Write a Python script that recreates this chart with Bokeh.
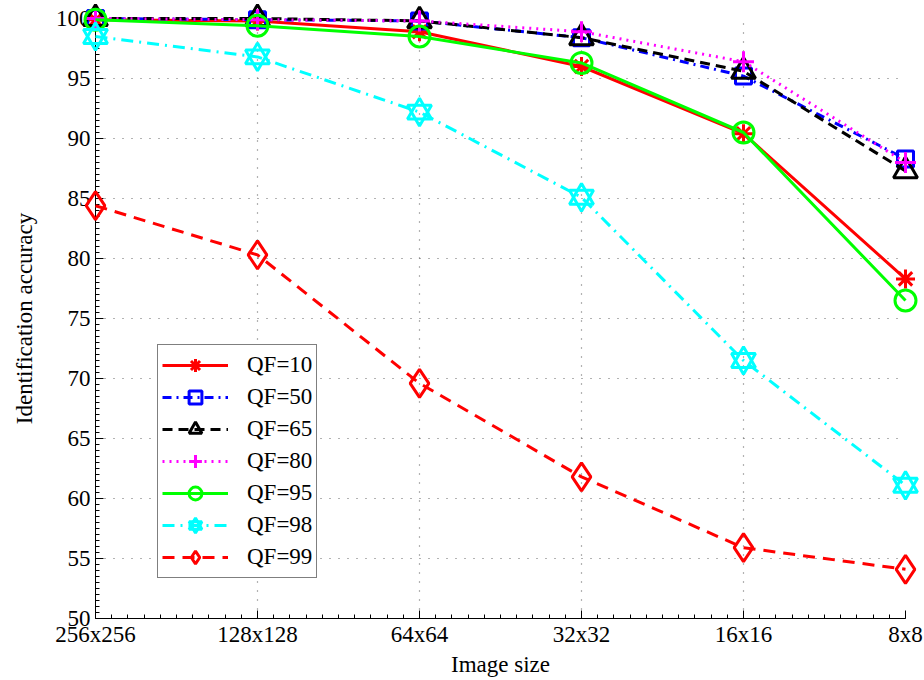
from bokeh.plotting import figure
from bokeh.models import FixedTicker, Legend, LegendItem, Range1d
from bokeh.embed import file_html
from bokeh.resources import INLINE

# ---- data ----
sizes = ["256x256", "128x128", "64x64", "32x32", "16x16", "8x8"]
xpos = [0, 1, 2, 3, 4, 5]
qf10 = [99.9, 99.8, 98.9, 96.0, 90.4, 78.3]
qf50 = [100.0, 99.9, 99.8, 98.4, 95.2, 88.3]
qf65 = [100.0, 100.0, 99.8, 98.4, 95.6, 87.3]
qf80 = [100.0, 99.9, 99.8, 98.9, 96.4, 88.0]
qf95 = [99.9, 99.4, 98.5, 96.3, 90.5, 76.5]
qf98 = [98.5, 96.8, 92.2, 85.1, 71.5, 61.1]
qf99 = [84.4, 80.3, 69.6, 61.8, 55.9, 54.1]
yticks = list(range(50, 101, 5))

FONT = "Liberation Serif"

p = figure(width=924, height=680, x_range=Range1d(0, 5), y_range=Range1d(50, 100),
           output_backend="svg", toolbar_location=None,
           min_border_left=95, min_border_right=19, min_border_top=18, min_border_bottom=62)
p.outline_line_color = None
p.background_fill_color = "white"
p.border_fill_color = "white"

p.xaxis.ticker = FixedTicker(ticks=xpos, minor_ticks=[i / 10 for i in range(51)])
p.xaxis.major_label_overrides = {i: s for i, s in zip(xpos, sizes)}
p.yaxis.ticker = FixedTicker(ticks=yticks, minor_ticks=[50 + i * 0.5 for i in range(101)])

for ax in (p.xaxis[0], p.yaxis[0]):
    ax.major_tick_in = 8
    ax.major_tick_out = 0
    ax.minor_tick_in = 4
    ax.minor_tick_out = 0
    ax.axis_line_color = "black"
    ax.major_tick_line_color = "black"
    ax.minor_tick_line_color = "black"
    ax.major_label_text_font = FONT
    ax.major_label_text_font_size = "23px"
    ax.major_label_text_color = "black"
    ax.axis_label_text_font = FONT
    ax.axis_label_text_font_size = "23px"
    ax.axis_label_text_font_style = "normal"
    ax.axis_label_text_color = "black"

p.xaxis.axis_label = "Image size"
p.yaxis.axis_label = "Identification accuracy"
p.xaxis.major_label_standoff = 3
p.xaxis.axis_label_standoff = 2
p.yaxis.major_label_standoff = 5
p.yaxis.axis_label_standoff = 16

for g in (p.xgrid[0], p.ygrid[0]):
    g.grid_line_color = "#666666"
    g.grid_line_dash = "1 8"
    g.grid_line_width = 1.2

LW = 3
items = []

def series(label, ys, color, dash, markers, size, mlw=3):
    l = p.line(xpos, ys, line_color=color, line_width=LW, line_dash=dash, level="overlay")
    rs = [l]
    for m in markers:
        s = p.scatter(xpos, ys, marker=m, size=size, line_color=color, fill_color=None,
                      line_width=mlw, level="overlay")
        rs.append(s)
    items.append(LegendItem(label=label, renderers=rs))

series("QF=10", qf10, "#ff0000", "solid", ["asterisk"], 19, 3)
series("QF=50", qf50, "#0000ff", "9 5 2 5", ["square"], 16)
series("QF=65", qf65, "#000000", "10 6", ["triangle"], 24)
series("QF=80", qf80, "#ff00ff", "2 5", ["cross"], 21)
series("QF=95", qf95, "#00ff00", "solid", ["circle"], 21)
series("QF=98", qf98, "#00ffff", "12 6 2 6", ["triangle", "inverted_triangle"], 24, 3)
series("QF=99", qf99, "#ff0000", "12 8", ["diamond"], 28)

legend = Legend(items=items, location=(62, 40))
legend.label_text_font = FONT
legend.label_text_font_size = "23px"
legend.label_text_color = "black"
legend.glyph_width = 66
legend.glyph_height = 32
legend.label_height = 32
legend.spacing = 0
legend.padding = 4
legend.margin = 0
legend.label_standoff = 19
legend.border_line_color = "black"
legend.border_line_width = 1
legend.background_fill_color = "white"
legend.background_fill_alpha = 1.0
p.add_layout(legend)

open("out.html", "w").write(file_html(p, INLINE))
